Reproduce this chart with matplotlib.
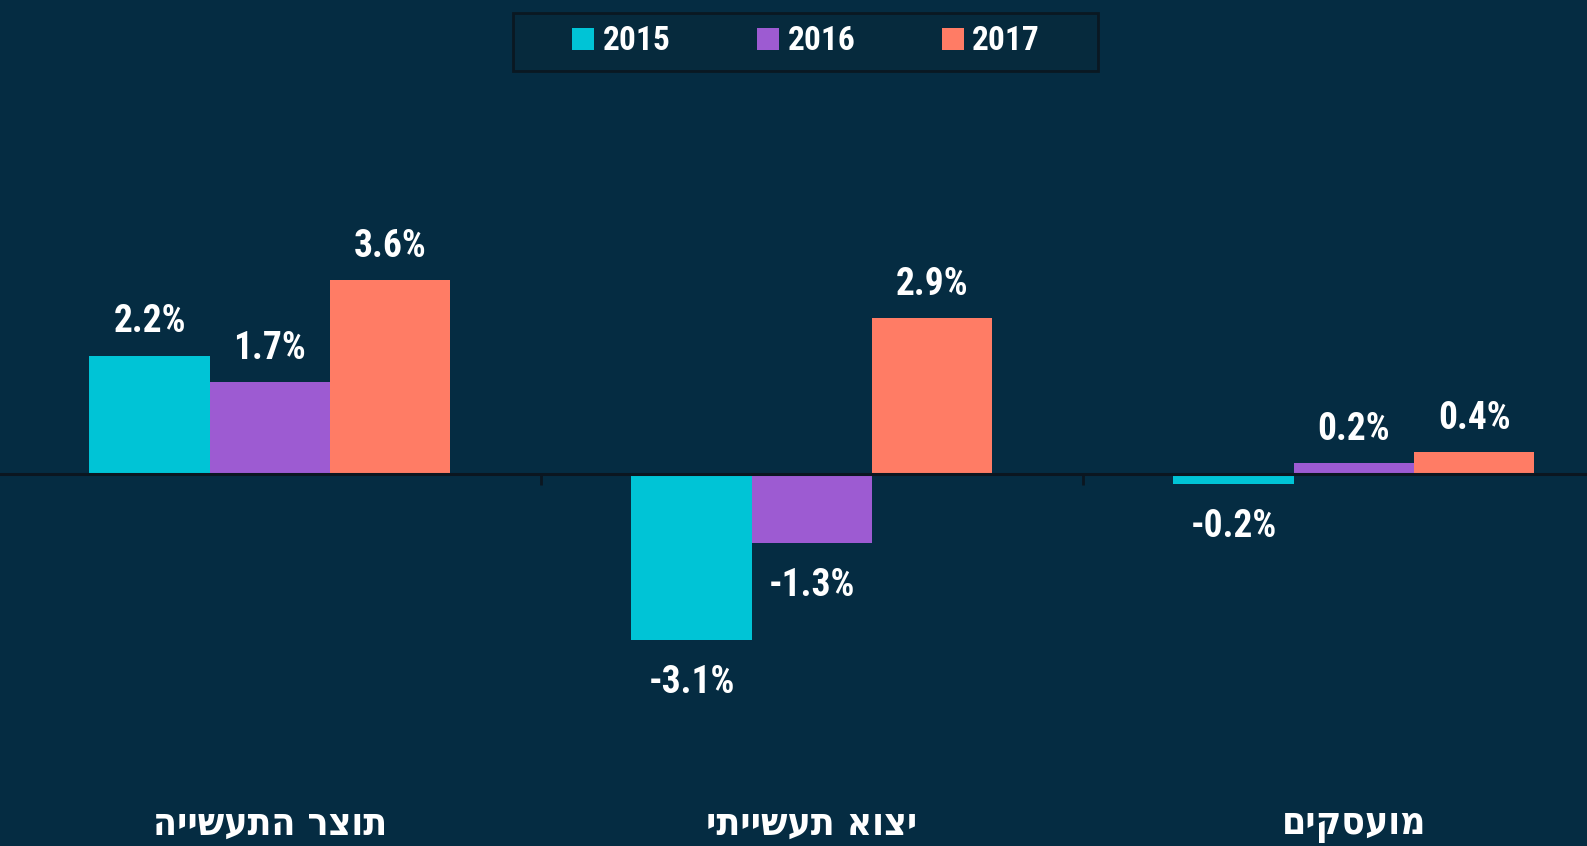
import numpy as np
import matplotlib.pyplot as plt
from matplotlib import transforms
from matplotlib.patches import Rectangle

# data
categories = ['תוצר התעשייה', 'יצוא תעשייתי', 'מועסקים']
years = ['2015', '2016', '2017']
v2015 = [2.2, -3.1, -0.2]
v2016 = [1.7, -1.3, 0.2]
v2017 = [3.6, 2.9, 0.4]
colors = ['#00c4d6', '#9d5bd2', '#ff7c65']

BG = '#052c42'
plt.rcParams['font.family'] = ['Roboto Condensed', 'Liberation Sans Narrow', 'DejaVu Sans']
plt.rcParams['font.stretch'] = 'condensed'

fig = plt.figure(figsize=(15.87, 8.46), dpi=100, facecolor=BG)
ax = fig.add_axes([0, 0.1, 1, 0.75])
ax.set_facecolor(BG)

x = np.arange(len(categories))
w = 0.222
series = [v2015, v2016, v2017]
for i, vals in enumerate(series):
    xs = x + (i - 1) * w
    bars = ax.bar(xs, vals, width=w, color=colors[i], label=years[i], zorder=3)
    for b, v in zip(bars, vals):
        if v >= 0:
            ax.annotate('%.1f%%' % v, (b.get_x() + w / 2, v), xytext=(0, 11),
                        textcoords='offset points', ha='center', va='bottom',
                        color='white', fontsize=27, fontweight='bold')
        else:
            ax.annotate('%.1f%%' % v, (b.get_x() + w / 2, v), xytext=(0, -17),
                        textcoords='offset points', ha='center', va='top',
                        color='white', fontsize=27, fontweight='bold')

ax.set_xlim(-0.498, 2.43)
ax.set_ylim(-5.36, 6.46)

for s in ['top', 'right', 'left']:
    ax.spines[s].set_visible(False)
ax.spines['bottom'].set_position(('data', 0))
ax.spines['bottom'].set_color('#0b1620')
ax.spines['bottom'].set_linewidth(2.2)
ax.spines['bottom'].set_zorder(4)
ax.set_yticks([])
ax.set_xticks([0.5, 1.5])
ax.set_xticklabels([])
ax.tick_params(axis='x', direction='out', length=8, width=2, color='#0b1620')

# category labels (hebrew, reversed for rtl display)
trans = transforms.blended_transform_factory(ax.transData, fig.transFigure)
for xi, c in zip(x, categories):
    ax.text(xi, 0.026, c[::-1], transform=trans, ha='center', va='center',
            color='white', fontsize=28, fontweight='bold',
            family=['DejaVu Sans'], fontstretch='condensed')

# legend box
fig.patches.append(Rectangle((0.323, 0.916), 0.369, 0.069, transform=fig.transFigure,
                             facecolor='#062a3d', edgecolor='#0a1822', linewidth=2))
leg = fig.legend(loc='center', bbox_to_anchor=(0.508, 0.951), ncol=3,
                 frameon=False, handlelength=0.66, handleheight=0.66,
                 handletextpad=0.25, columnspacing=2.6, borderpad=0.2,
                 prop={'size': 24, 'weight': 'bold'})
for t in leg.get_texts():
    t.set_color('white')

fig.savefig('out.png', dpi=100, facecolor=BG)
